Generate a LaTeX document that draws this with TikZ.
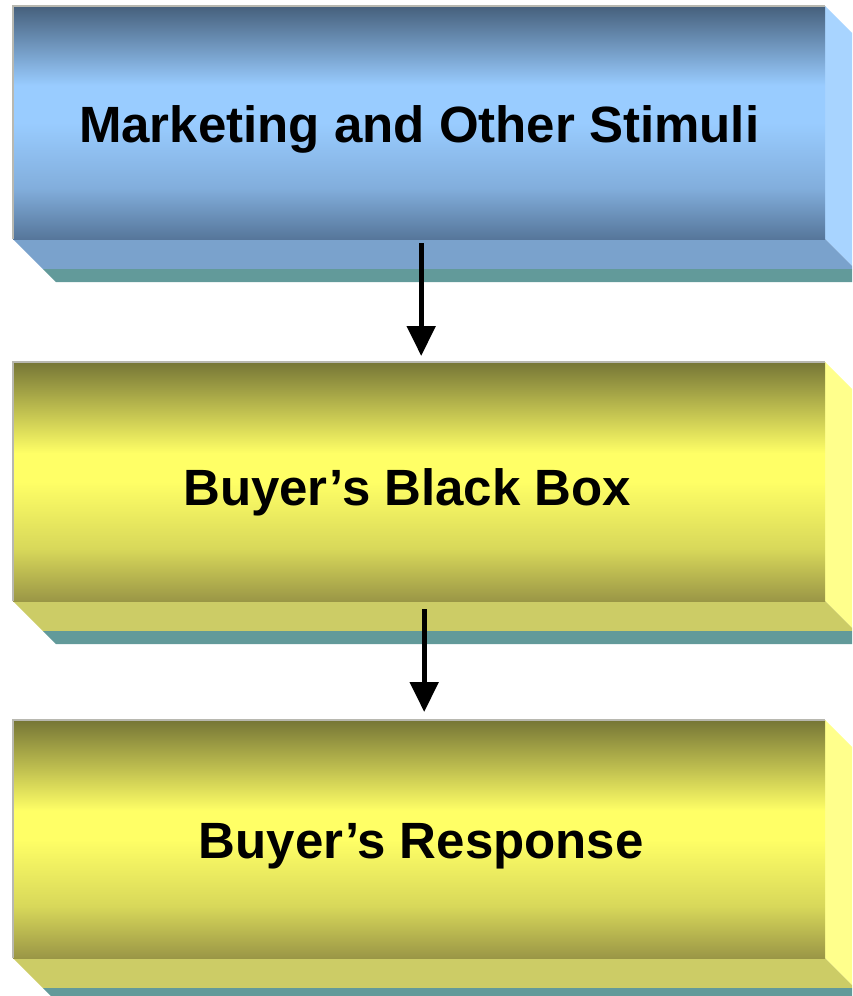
\documentclass[tikz,border=0pt]{standalone}
\usepackage{fontspec}
\setmainfont{Liberation Sans}
\usetikzlibrary{arrows.meta}

% colours of the blue slab
\definecolor{blueTop}{HTML}{46607C}
\definecolor{blueMid}{HTML}{99CCFF}
\definecolor{blueLow}{HTML}{82AEDC}
\definecolor{blueBot}{HTML}{56769A}
\definecolor{blueSide}{HTML}{A8D4FF}
\definecolor{blueFloor}{HTML}{7AA2CC}
% colours of the yellow slabs
\definecolor{yelTop}{HTML}{767636}
\definecolor{yelMid}{HTML}{FFFF66}
\definecolor{yelLow}{HTML}{D8D85A}
\definecolor{yelBot}{HTML}{9A9646}
\definecolor{yelSide}{HTML}{FFFF8C}
\definecolor{yelFloor}{HTML}{CCCC66}
% strip under every slab
\definecolor{tealStrip}{HTML}{629A9A}
\definecolor{edgeLine}{HTML}{B8B8B0}

\pgfdeclareverticalshading{bluefront}{100bp}{%
  color(0bp)=(blueBot); color(25bp)=(blueBot); color(36bp)=(blueLow);
  color(50bp)=(blueMid); color(58bp)=(blueMid); color(75bp)=(blueTop); color(100bp)=(blueTop)}
\pgfdeclareverticalshading{yellowfront}{100bp}{%
  color(0bp)=(yelBot); color(25bp)=(yelBot); color(36bp)=(yelLow);
  color(50bp)=(yelMid); color(56bp)=(yelMid); color(75bp)=(yelTop); color(100bp)=(yelTop)}

\tikzset{
  front/.style={anchor=north west, minimum width=812pt, minimum height=#1, inner sep=0pt},
  caption/.style={inner sep=0pt, text=black, font=\bfseries\fontsize{51}{61}\selectfont},
  arr/.style={line width=5pt, -{Triangle[width=28pt,length=30pt]}},
}

% slab decoration: right face, floor and the strip below it
\newcommand{\slabsides}[4]{% #1 top y, #2 bottom y, #3 side colour, #4 floor colour
  \fill[#3] (825,#1) -- (852,#1+27) -- (852,#2+27) -- (825,#2) -- cycle;
  \fill[#4] (13,#2) -- (825,#2) -- (852,#2+27) -- (852,#2+30) -- (43,#2+30) -- cycle;
  \fill[tealStrip] (43,#2+30) -- (852,#2+30) -- (852,#2+43) -- (56,#2+43) -- cycle;
}

\begin{document}
\begin{tikzpicture}[x=1pt,y=-1pt]
  \useasboundingbox[fill=white] (0,0) rectangle (852,996);

  \begin{scope}
    \clip (0,0) rectangle (852,996);
    \slabsides{6}{239}{blueSide}{blueFloor}
    \slabsides{362}{601}{yelSide}{yelFloor}
    \slabsides{720}{958}{yelSide}{yelFloor}
  \end{scope}

  \node[front=233pt, shade, shading=bluefront] (stim) at (13,6) {};
  \node[front=239pt, shade, shading=yellowfront] (bbox) at (13,362) {};
  \node[front=238pt, shade, shading=yellowfront] (resp) at (13,720) {};

  \node[caption] (stimtxt) at ([yshift=-7pt]stim.center) {Marketing and Other Stimuli};
  \node[caption] (bboxtxt) at ([xshift=-12pt,yshift=-11pt]bbox.center) {Buyer’s Black Box};
  \node[caption] (resptxt) at ([xshift=2pt,yshift=-7pt]resp.center) {Buyer’s Response};

  % thin light rim on the top and left edges of each front face
  \foreach \n in {stim,bbox,resp}
    \draw[edgeLine, line width=1.2pt] (\n.south west) -- (\n.north west) -- (\n.north east);

  \draw[arr] ([xshift=2pt,yshift=-4pt]stim.south) -- ([xshift=2pt,yshift=6pt]bbox.north);
  \draw[arr] ([xshift=5pt,yshift=-8pt]bbox.south) -- ([xshift=5pt,yshift=8pt]resp.north);
\end{tikzpicture}
\end{document}
